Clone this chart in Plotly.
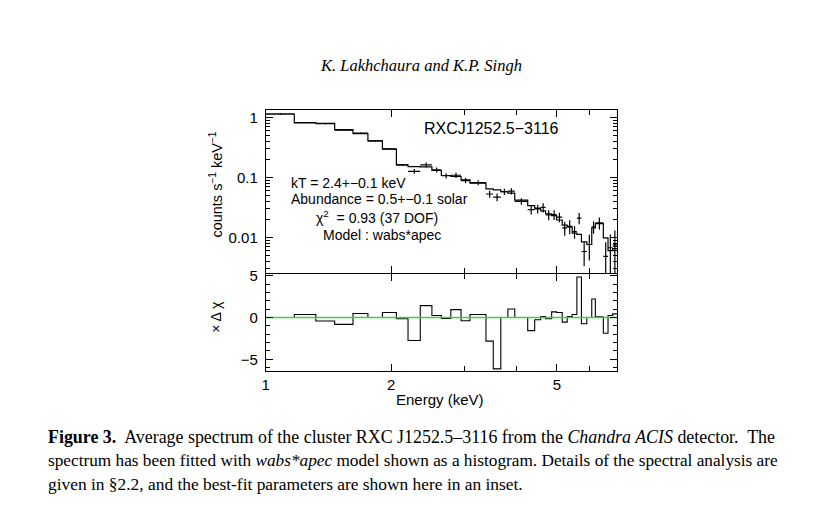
import plotly.graph_objects as go

# Bin edges (keV) and spectrum values
edges = [1.000, 1.171, 1.319, 1.464, 1.620, 1.759, 1.906, 2.059, 2.196, 2.350,
         2.506, 2.640, 2.782, 2.944, 3.093, 3.379, 3.518, 3.668, 3.814, 3.962,
         4.256, 4.423, 4.572, 4.699, 4.858, 4.993, 5.151, 5.294, 5.442, 5.585,
         5.728, 5.901, 6.064, 6.186, 6.465, 6.635, 6.808, 6.973]

# Model histogram (counts s-1 keV-1)
model = [1.15, 0.82, 0.80, 0.63, 0.54, 0.41, 0.297, 0.163, 0.152, 0.150,
         0.131, 0.108, 0.104, 0.091, 0.0805, 0.0648, 0.062, 0.058, 0.055, 0.042,
         0.034, 0.0308, 0.0278, 0.0248, 0.023, 0.0195, 0.0160, 0.0150, 0.0118, 0.0112,
         0.0084, 0.0076, 0.0144, 0.0170, 0.0098, 0.0060, 0.0065]

# Data points and 1-sigma errors
counts = [1.15, 0.83, 0.79, 0.62, 0.55, 0.41, 0.30, 0.162, 0.127, 0.163,
          0.134, 0.107, 0.109, 0.089, 0.082, 0.053, 0.047, 0.058, 0.059, 0.040,
          0.029, 0.030, 0.0316, 0.0238, 0.024, 0.0218, 0.0144, 0.0153, 0.0125, 0.021,
          0.0058, 0.0076, 0.0150, 0.0175, 0.0048, 0.0067, 0.0075]
errors = [0.02, 0.015, 0.015, 0.012, 0.012, 0.01, 0.008, 0.006, 0.012, 0.015,
          0.013, 0.011, 0.011, 0.009, 0.008, 0.007, 0.007, 0.007, 0.007, 0.005,
          0.005, 0.005, 0.0055, 0.0045, 0.0045, 0.004, 0.0038, 0.004, 0.003, 0.0045,
          0.0025, 0.0035, 0.0035, 0.004, 0.0035, 0.0045, 0.0055]

# Residuals (sign x delta chi)
resid = [0.0, 0.35, -0.43, -0.83, 0.47, 0.0, 0.59, -0.16, -2.76, 1.42,
         0.24, -0.12, 0.94, -0.39, 0.35, -2.83, -6.14, 0.0, 1.02, 0.0,
         -1.57, -0.28, 0.12, -0.16, 0.67, 0.59, -0.55, 0.12, 0.35, 4.84,
         -0.75, 0.0, 2.2, 0.08, -1.89, 0.24, 0.43]

# Page size (the page body adds an 8 px margin) and panel placement in page pixels
OFF = 8
W, H = 820 - OFF, 517 - OFF
left, right = 263, 616
top, mid, bottom = 104, 270, 369


def px(x):
    return (x - OFF) / W


def py(y):
    return 1 - (y - OFF) / H


# Bin centres and half widths for the data crosses
centres = [(edges[i] + edges[i + 1]) / 2 for i in range(len(counts))]
xplus = [edges[i + 1] - centres[i] for i in range(len(counts))]
xminus = [centres[i] - edges[i] for i in range(len(counts))]

fig = go.Figure()

# Model histogram
fig.add_trace(go.Scatter(
    x=edges,
    y=model + [model[-1]],
    mode='lines',
    line=dict(color='black', width=1.2, shape='hv'),
    xaxis='x', yaxis='y'
))

# Data crosses
fig.add_trace(go.Scatter(
    x=centres,
    y=counts,
    mode='markers',
    marker=dict(size=1, color='black'),
    error_x=dict(type='data', array=xplus, arrayminus=xminus, width=0, thickness=1.2, color='black'),
    error_y=dict(type='data', array=errors, width=0, thickness=1.2, color='black'),
    xaxis='x', yaxis='y'
))

# Residual histogram
fig.add_trace(go.Scatter(
    x=edges,
    y=resid + [resid[-1]],
    mode='lines',
    line=dict(color='black', width=1.1, shape='hv'),
    xaxis='x2', yaxis='y2'
))

# Zero line in residual panel (drawn over the residuals)
fig.add_trace(go.Scatter(
    x=[edges[0], edges[-1]],
    y=[0, 0],
    mode='lines',
    line=dict(color='#3ecf3e', width=1.3),
    xaxis='x2', yaxis='y2'
))

axis_style = dict(
    showline=True, linecolor='black', linewidth=1, mirror='ticks',
    ticks='inside', tickcolor='black', ticklen=7, tickwidth=1,
    showgrid=False, zeroline=False,
    tickfont=dict(family='Liberation Sans, Arial', size=15, color='black')
)

xrange = [0, 0.8434]
fig.update_layout(
    width=W, height=H,
    margin=dict(l=0, r=0, t=0, b=0),
    paper_bgcolor='white', plot_bgcolor='white',
    showlegend=False,
    xaxis=dict(axis_style, type='log', range=xrange, domain=[px(left), px(right)],
               anchor='y', tickvals=[1, 2, 5], showticklabels=False,
               minor=dict(tickvals=[3, 4, 6], ticks='inside', ticklen=5, tickcolor='black')),
    yaxis=dict(axis_style, type='log', range=[-2.602, 0.133], domain=[py(mid), py(top)],
               anchor='x', tickvals=[0.01, 0.1, 1], ticktext=['0.01', '0.1', '1'],
               ticklabelstandoff=4,
               minor=dict(tickvals=[m * d for d in [0.001, 0.01, 0.1, 1] for m in range(2, 10)],
                          ticks='inside', ticklen=4, tickcolor='black')),
    xaxis2=dict(axis_style, type='log', range=xrange, domain=[px(left), px(right)],
                anchor='y2', tickvals=[1, 2, 5], ticktext=['1', '2', '5'],
                minor=dict(tickvals=[3, 4, 6], ticks='inside', ticklen=5, tickcolor='black')),
    yaxis2=dict(axis_style, range=[-6.4, 5.15], domain=[py(bottom), py(mid + 1)],
                anchor='x2', tickvals=[-5, 0, 5], ticktext=['\u22125', '0', '5'],
                ticklabelstandoff=4,
                minor=dict(tickvals=[-6, -4, -3, -2, -1, 1, 2, 3, 4], ticks='inside',
                           ticklen=4, tickcolor='black')),
)

sans = dict(family='Liberation Sans, Arial', color='black')
serif = dict(family='Liberation Serif, Times New Roman', color='black')
sp2 = '\u00a0 '

notes = [
    (490, 123, 'RXCJ1252.5\u22123116', 16, 'center', sans),
    (286, 178, 'kT = 2.4+\u22120.1 keV', 14, 'left', sans),
    (286, 195, 'Abundance = 0.5+\u22120.1 solar', 14, 'left', sans),
    (311, 213, '\u03c7<sup>2</sup>  = 0.93 (37 DOF)', 14, 'left', sans),
    (319, 231, 'Model : wabs*apec', 14, 'left', sans),
    (438, 398, 'Energy (keV)', 15, 'center', sans),
    (419, 59, '<i>K. Lakhchaura and K.P. Singh</i>', 16.5, 'center', serif),
    (42, 436, '<b>Figure 3.</b>' + sp2 + 'Average spectrum of the cluster RXC J1252.5\u20133116 from the '
              '<i>Chandra ACIS</i> detector.' + sp2 + 'The', 17.9, 'left', serif),
    (42, 460, 'spectrum has been fitted with <i>wabs*apec</i> model shown as a histogram. '
              'Details of the spectral analysis are', 17.25, 'left', serif),
    (42, 484, 'given in \u00a72.2, and the best-fit parameters are shown here in an inset.',
     17.4, 'left', serif),
]
for x, y, text, size, align, font in notes:
    fig.add_annotation(x=px(x), y=py(y), xref='paper', yref='paper', text=text, showarrow=False,
                       xanchor=align, yanchor='middle', font=dict(font, size=size))

# Rotated axis titles
fig.add_annotation(x=px(213), y=py(180), xref='paper', yref='paper', xanchor='center',
                   text='counts s<sup>\u22121</sup> keV<sup>\u22121</sup>', textangle=-90,
                   showarrow=False, font=dict(sans, size=14.5))
fig.add_annotation(x=px(213), y=py(314), xref='paper', yref='paper', xanchor='center',
                   text='\u00d7 \u0394 \u03c7', textangle=-90,
                   showarrow=False, font=dict(sans, size=14))

fig.write_html("out.html")
